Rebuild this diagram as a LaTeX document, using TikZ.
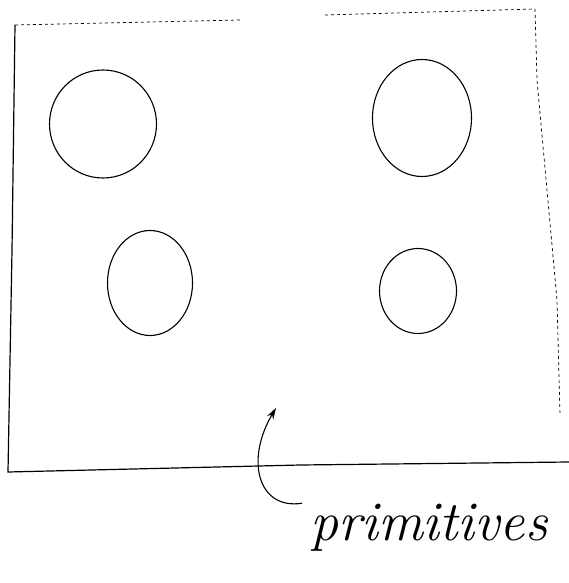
\documentclass[tikz,border=0pt]{standalone}
\usepackage{tikz}
\usetikzlibrary{arrows.meta,positioning,shapes.geometric}

\begin{document}
\begin{tikzpicture}[
  x=1pt, y=-1pt,
  blob/.style={ellipse, draw, line width=1.1pt, inner sep=0pt},
  frame/.style={line width=1.2pt},
  faint/.style={line width=0.7pt, dashed},
  arrow/.style={-{Stealth[length=4mm, width=2.5mm]}, line width=1.1pt},
  note/.style={font=\fontsize{56}{62}\selectfont\itshape, inner sep=0pt},
]
\useasboundingbox (0,0) rectangle (569,583);

% Frame
\draw[frame] (15,25) -- (12,250) -- (8,472) -- (300,465) -- (569,462);
\draw[faint] (15,25) -- (240,20) (325,15) -- (535,9) -- (537,80) -- (557,300) -- (560,415);

% Primitives
\node[blob, minimum width=107pt, minimum height=108pt] (tl) at (103,124) {};
\node[blob, minimum width=99pt, minimum height=117pt] (tr) at (422,118) {};
\node[blob, minimum width=85pt, minimum height=105pt] (bl) at (150,283) {};
\node[blob, minimum width=77pt, minimum height=85pt] (br) at (418,291) {};

% Label
\node[note, anchor=base west] (prim) at (310,540) {primitives};
\coordinate (tip) at (276,408);
\draw[arrow] (prim.west) ++(-8,-24) .. controls (258,510) and (245,460) .. (tip);

\end{tikzpicture}
\end{document}
